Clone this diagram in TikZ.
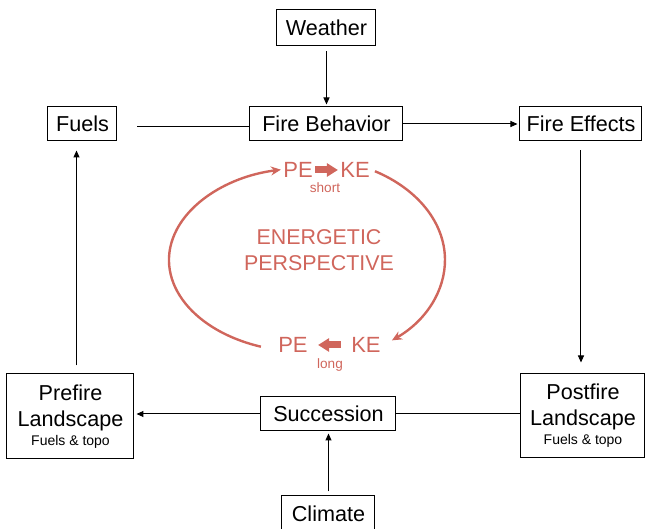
\documentclass[tikz,border=0pt]{standalone}
\usepackage{fontspec}
\setmainfont{Liberation Sans}
\usetikzlibrary{arrows.meta,positioning,calc}
\definecolor{energy}{RGB}{208,102,92}

\begin{document}
\begin{tikzpicture}[
    x=.5pt,y=.5pt,
    box/.style = {draw,line width=.5pt,inner sep=0pt,minimum height=17pt,align=center,
        font=\fontsize{10.8}{13}\selectfont},
    link/.style = {line width=.5pt,-{Triangle[length=3.5pt,width=3pt]}},
    plain/.style = {line width=.5pt},
    redtext/.style = {text=energy,inner sep=1pt,font=\fontsize{11}{13}\selectfont},
    redsmall/.style = {text=energy,inner sep=0pt,font=\fontsize{6.8}{8}\selectfont},
    swap/.style = {energy,line width=3.5pt,-{Triangle[length=5.5pt,width=6.5pt]}},
    cycle/.style = {energy,line width=1.2pt,-{Stealth[length=5pt,width=4.5pt]}},
    ]
    \useasboundingbox (0,0) rectangle (645,-529);
    \newcommand{\smallline}{\fontsize{7}{8}\selectfont}
    % boxes
    \node[box,minimum width=76.5pt] (fire-behavior) at (326.5,-124) {Fire Behavior};
    \node[box,minimum width=49.5pt,minimum height=18pt] (weather) [above=30pt of fire-behavior] {Weather};
    \node[box,minimum width=34.5pt] (fuels) [left=66pt of fire-behavior] {Fuels};
    \node[box,minimum width=61pt] (fire-effects) [right=58pt of fire-behavior] {Fire Effects};
    \node[box,minimum width=67.5pt] (succession) [below=127.5pt of fire-behavior,xshift=1pt] {Succession};
    \node[box,minimum width=46.5pt,minimum height=18pt] (climate) [below=32pt of succession] {Climate};
    \node[box,minimum width=63.5pt,minimum height=42.5pt] (prefire) [left=63pt of succession,yshift=-1.2pt]
        {Prefire\\Landscape\\[-3.5pt]{\smallline Fuels \& topo}};
    \node[box,minimum width=62pt,minimum height=42pt] (postfire) [right=62pt of succession,yshift=-1pt]
        {Postfire\\Landscape\\[-3.5pt]{\smallline Fuels \& topo}};
    % connectors
    \draw[link,shorten <=2.5pt,shorten >=1pt] (weather) -- (fire-behavior);
    \draw[plain,shorten <=10pt] ([yshift=-1.5pt]fuels.east) -- ([yshift=-1.5pt]fuels.east -| fire-behavior.west);
    \draw[link,shorten >=1pt] (fire-behavior) -- (fire-effects);
    \draw[link,shorten <=4.5pt,shorten >=5.5pt] (fire-effects.south) -- (fire-effects.south |- postfire.north);
    \draw[plain] (postfire.west |- succession) -- (succession);
    \draw[link,shorten >=1pt] (succession) -- (succession -| prefire.east);
    \draw[link,shorten <=4pt,shorten >=4.5pt] ([xshift=3pt]prefire.north) -- ([xshift=3pt]prefire.north |- fuels.south);
    \draw[link,shorten <=2pt,shorten >=1pt] (climate) -- (succession);
    % energetic perspective
    \coordinate (center) at (307,-260);
    \node[redtext] (pe-short) at (298,-170) {PE};
    \node[redtext] (ke-short) at (355,-170) {KE};
    \node[redsmall] (short) at (325,-188) {short};
    \node[redtext] (pe-long) at (293,-345) {PE};
    \node[redtext] (ke-long) at (366,-345) {KE};
    \node[redsmall] (long) at (330,-365) {long};
    \node[redtext,align=center,font=\fontsize{10.7}{13}\selectfont] (perspective) at (319,-250) {ENERGETIC\\PERSPECTIVE};
    \draw[swap] (pe-short) -- (ke-short);
    \draw[swap,shorten <=4pt,shorten >=4pt] (ke-long) -- (pe-long);
    \draw[cycle] ([shift={(250.5:69pt and 46pt)}]center) arc[start angle=250.5,end angle=100.9,x radius=69pt,y radius=46pt];
    \draw[cycle] ([shift={(60.5:69pt and 51pt)}]center) arc[start angle=60.5,end angle=-52,x radius=69pt,y radius=51pt];
\end{tikzpicture}
\end{document}
